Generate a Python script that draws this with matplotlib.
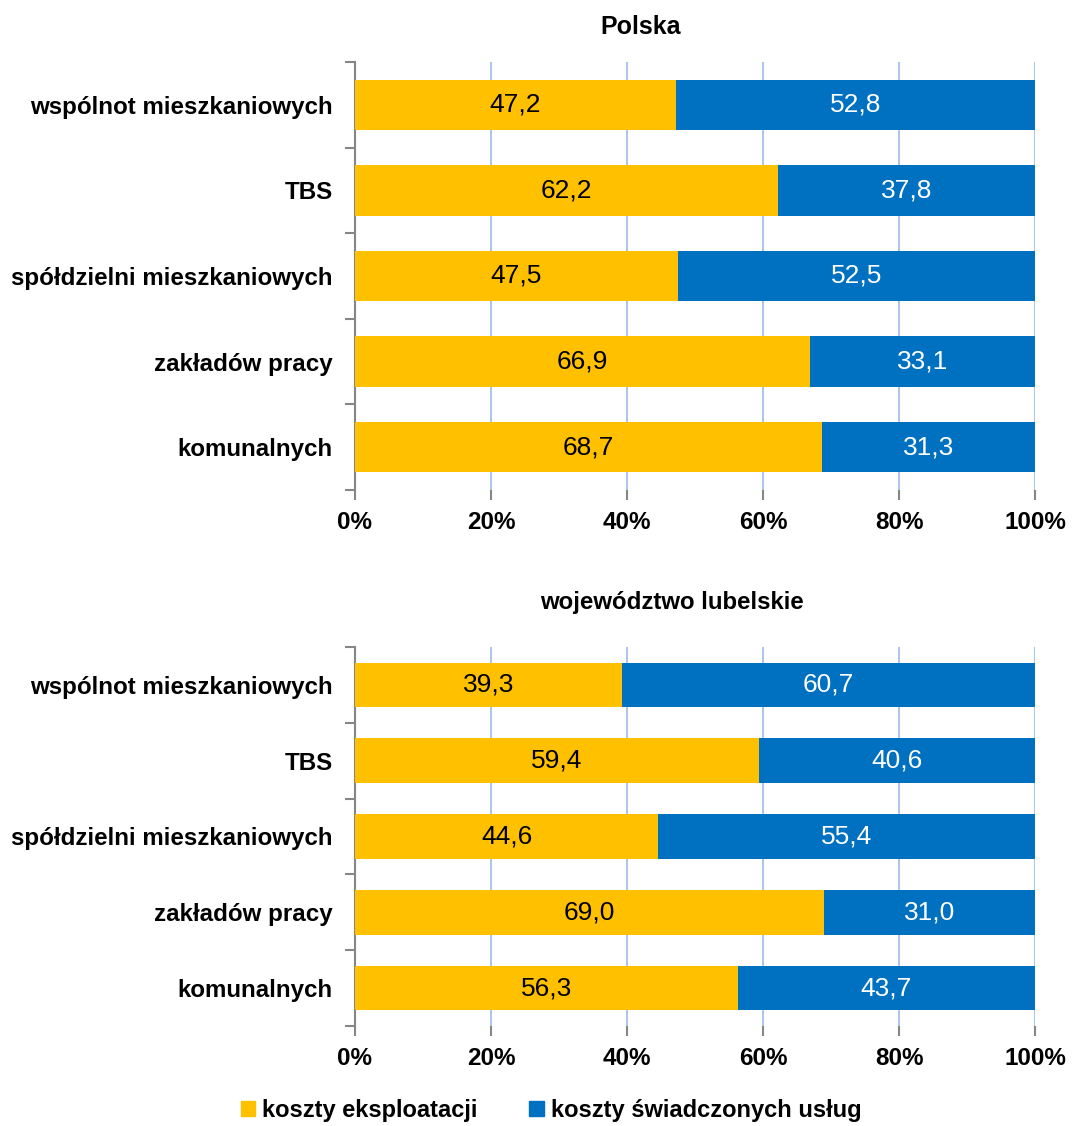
import matplotlib
matplotlib.use("Agg")
import matplotlib.pyplot as plt
from matplotlib.patches import Patch

plt.rcParams['font.family'] = ['Liberation Sans', 'DejaVu Sans']

categories = ["wspólnot mieszkaniowych", "TBS", "spółdzielni mieszkaniowych",
              "zakładów pracy", "komunalnych"]
polska_eksploatacja = [47.2, 62.2, 47.5, 66.9, 68.7]
polska_uslugi = [52.8, 37.8, 52.5, 33.1, 31.3]
lubelskie_eksploatacja = [39.3, 59.4, 44.6, 69.0, 56.3]
lubelskie_uslugi = [60.7, 40.6, 55.4, 31.0, 43.7]
x_ticks = [0, 20, 40, 60, 80, 100]
x_ticklabels = ["0%", "20%", "40%", "60%", "80%", "100%"]
series_names = ["koszty eksploatacji", "koszty świadczonych usług"]

YELLOW = "#FFC000"
BLUE = "#0070C0"
GRID = "#AFC6EA"
SPINE = "#868686"

W, H = 1073, 1126
fig = plt.figure(figsize=(W / 100, H / 100), dpi=100)


def panel(rect, left_vals, right_vals, title, title_xy, title_size):
    ax = fig.add_axes(rect)
    n = len(categories)
    ys = list(range(n))[::-1]
    ax.barh(ys, left_vals, height=0.59, color=YELLOW, zorder=3)
    ax.barh(ys, right_vals, left=left_vals, height=0.59, color=BLUE, zorder=3)
    for y, a, b in zip(ys, left_vals, right_vals):
        ax.text(a / 2, y, f"{a:.1f}".replace(".", ","), ha="center", va="center",
                fontsize=19, color="black", zorder=4)
        ax.text(a + b / 2, y, f"{b:.1f}".replace(".", ","), ha="center", va="center",
                fontsize=19, color="white", zorder=4)
    ax.set_xlim(0, 100)
    ax.set_ylim(-0.5, n - 0.5)
    ax.set_xticks(x_ticks)
    ax.set_xticklabels(x_ticklabels, fontsize=17.5, fontweight="bold")
    ax.set_yticks(ys)
    ax.set_yticklabels(categories, fontsize=17.4, fontweight="bold")
    ax.tick_params(axis="y", length=0, pad=16)
    ax.set_yticks([i - 0.5 for i in range(n + 1)], minor=True)
    ax.tick_params(axis="y", which="minor", length=7, color=SPINE, width=1.5)
    ax.tick_params(axis="x", length=7, color=SPINE, width=1.5, pad=8)
    ax.grid(axis="x", color=GRID, linewidth=1.5, zorder=0)
    for s in ["top", "right", "bottom"]:
        ax.spines[s].set_visible(False)
    ax.spines["left"].set_color(SPINE)
    ax.spines["left"].set_linewidth(1.5)
    fig.text(title_xy[0] / W, 1 - title_xy[1] / H, title, ha="center", va="center",
             fontsize=title_size, fontweight="bold")
    return ax


panel([355 / W, 1 - 490 / H, 680 / W, 428 / H], polska_eksploatacja, polska_uslugi,
      "Polska", (641, 27), 18)
panel([355 / W, 1 - 1026 / H, 680 / W, 379 / H], lubelskie_eksploatacja, lubelskie_uslugi,
      "województwo lubelskie", (672, 603), 17.3)

handles = [Patch(color=YELLOW), Patch(color=BLUE)]
fig.legend(handles, series_names, loc="center", bbox_to_anchor=(551 / W, 1 - 1110 / H),
           ncol=2, frameon=False, prop={"weight": "bold", "size": 17},
           handlelength=0.6, handleheight=0.6, handletextpad=0.3, columnspacing=2.2)

fig.savefig("out.png", dpi=100)
